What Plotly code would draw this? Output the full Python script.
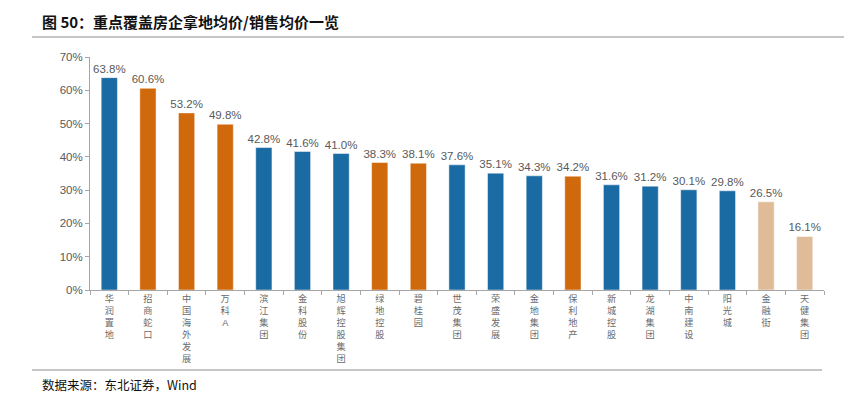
import plotly.graph_objects as go

companies = ["华润置地", "招商蛇口", "中国海外发展", "万科A", "滨江集团", "金科股份", "旭辉控股集团",
             "绿地控股", "碧桂园", "世茂集团", "荣盛发展", "金地集团", "保利地产", "新城控股",
             "龙湖集团", "中南建设", "阳光城", "金融街", "天健集团"]
ratio = [63.8, 60.6, 53.2, 49.8, 42.8, 41.6, 41.0, 38.3, 38.1, 37.6, 35.1, 34.3, 34.2,
         31.6, 31.2, 30.1, 29.8, 26.5, 16.1]
group = ["b", "o", "o", "o", "b", "b", "b", "o", "o", "b", "b", "b", "o", "b", "b", "b", "b", "t", "t"]

palette = {"b": "#1A6AA4", "o": "#D0690B", "t": "#DFBB98"}
colors = [palette[g] for g in group]
labels = ["<br>".join(list(c)) for c in companies]
vals = [v / 100 for v in ratio]

lblfont = dict(family="Liberation Sans, Arial", size=11.5, color="#595959")

fig = go.Figure(go.Bar(
    x=labels, y=vals,
    marker=dict(color=colors, line=dict(color="rgba(255,255,255,0.6)", width=0.8)),
    text=[f"{v:.1f}%" for v in ratio], textposition="outside", cliponaxis=False,
    constraintext="none",
    textfont=lblfont, outsidetextfont=lblfont,
    width=0.42,
))

fig.update_layout(
    width=844, height=397,
    margin=dict(l=90, r=20, t=57, b=107),
    plot_bgcolor="white", paper_bgcolor="white",
    showlegend=False,
    title=dict(text="<b>图 50：重点覆盖房企拿地均价/销售均价一览</b>",
               x=42 / 844, xanchor="left", y=1 - 23 / 397, yanchor="middle",
               font=dict(family="Noto Sans CJK SC", size=15, color="#111111")),
    xaxis=dict(type="category", showline=True, linecolor="#A6A6A6", linewidth=1,
               ticks="outside", tickson="boundaries", ticklen=4, tickcolor="#A6A6A6",
               tickfont=dict(family="Liberation Sans, Noto Sans CJK SC", size=9.2, color="#6B6B6B"),
               tickangle=0, showgrid=False, automargin=False),
    yaxis=dict(range=[0, 0.7], dtick=0.1, tickformat=".0%", showline=True,
               linecolor="#A6A6A6", linewidth=1, ticks="outside", ticklen=4,
               tickcolor="#A6A6A6", showgrid=False, zeroline=False, automargin=False,
               tickfont=dict(family="Liberation Sans, Arial", size=11.5, color="#595959")),
    shapes=[
        dict(type="line", xref="paper", yref="paper", x0=(32 - 90) / 734, x1=(844 - 90) / 734,
             y0=1 + 20 / 233, y1=1 + 20 / 233, line=dict(color="#8C8C8C", width=1)),
        dict(type="line", xref="paper", yref="paper", x0=(32 - 90) / 734, x1=(822 - 90) / 734,
             y0=-(370 - 290) / 233, y1=-(370 - 290) / 233, line=dict(color="#8C8C8C", width=1)),
    ],
    annotations=[
        dict(text="数据来源：东北证券，Wind", xref="paper", yref="paper",
             x=(40 - 90) / 734, y=-(384 - 290) / 233, xanchor="left", yanchor="middle",
             showarrow=False, font=dict(family="Noto Sans CJK SC", size=12.5, color="#111111")),
    ],
)

fig.write_html("out.html", config={"displayModeBar": False},
               post_script="document.body.style.margin='0';document.body.style.overflow='hidden';")
